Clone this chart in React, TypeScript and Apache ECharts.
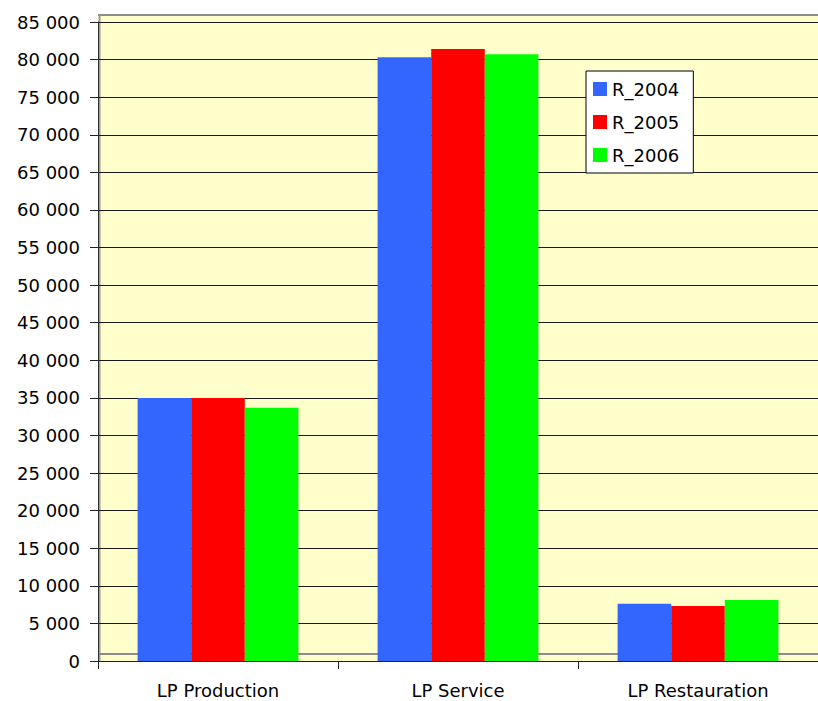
import React, { useEffect, useRef } from "react";
import * as echarts from "echarts";

const categories = ["LP Production", "LP Service", "LP Restauration"];
const seriesNames = ["R_2004", "R_2005", "R_2006"];
const r2004 = [35000, 80300, 7600];
const r2005 = [35000, 81400, 7300];
const r2006 = [33700, 80700, 8100];
const seriesColors = ["#3366FF", "#FF0000", "#00FF00"];
const yMin = 0;
const yMax = 85000;
const yStep = 5000;

const FONT = "DejaVu Sans";

export default function App() {
  const ref = useRef<HTMLDivElement>(null);
  useEffect(() => {
    if (!ref.current) return;
    const chart = echarts.init(ref.current, null, { renderer: "svg" });
    const data = [r2004, r2005, r2006];
    chart.setOption({
      animation: false,
      backgroundColor: "#FFFFFF",
      textStyle: { fontFamily: FONT },
      graphic: [
        {
          type: "rect",
          z: -10,
          silent: true,
          shape: { x: 98, y: 15, width: 740, height: 646 },
          style: { fill: "#FFFFCC" },
        },
        {
          type: "line",
          z: -5,
          silent: true,
          shape: { x1: 98, y1: 15, x2: 830, y2: 15 },
          style: { stroke: "#8C8C8C", lineWidth: 2 },
        },
        {
          type: "line",
          z: -5,
          silent: true,
          shape: { x1: 99.5, y1: 15, x2: 99.5, y2: 661 },
          style: { stroke: "#9A9A9A", lineWidth: 2 },
        },
        {
          type: "line",
          z: -5,
          silent: true,
          shape: { x1: 98, y1: 654, x2: 830, y2: 654 },
          style: { stroke: "#8C8C8C", lineWidth: 2 },
        },
      ],
      legend: {
        orient: "vertical",
        left: 586,
        top: 71,
        data: seriesNames,
        icon: "rect",
        itemWidth: 14,
        itemHeight: 14,
        itemGap: 15,
        padding: [9, 14, 9, 7],
        backgroundColor: "#FFFFFF",
        borderColor: "#000000",
        borderWidth: 1,
        textStyle: { fontFamily: FONT, fontSize: 18, color: "#000000" },
        selectedMode: false,
      },
      grid: { left: 98, top: 22, width: 724, height: 639, containLabel: false },
      xAxis: {
        type: "category",
        data: categories,
        boundaryGap: true,
        axisLine: { show: true, lineStyle: { color: "#222222", width: 1 } },
        axisTick: { show: true, alignWithLabel: false, length: 8, lineStyle: { color: "#222222" } },
        axisLabel: { color: "#000000", fontSize: 18, fontFamily: FONT, margin: 20 },
      },
      yAxis: {
        type: "value",
        min: yMin,
        max: yMax,
        interval: yStep,
        axisLine: { show: true, lineStyle: { color: "#333333", width: 1 } },
        axisTick: { show: true, length: 8, lineStyle: { color: "#222222" } },
        axisLabel: {
          color: "#000000",
          fontSize: 18,
          fontFamily: FONT,
          margin: 18,
          formatter: (v: number) => String(v).replace(/\B(?=(\d{3})+(?!\d))/g, " "),
        },
        splitLine: { show: true, lineStyle: { color: "#1A1A1A", width: 1 } },
      },
      series: seriesNames.map((name, i) => ({
        name,
        type: "bar",
        data: data[i],
        barGap: "0%",
        barCategoryGap: "33%",
        itemStyle: { color: seriesColors[i] },
      })),
    });
    return () => chart.dispose();
  }, []);
  return (
    <div
      ref={ref}
      style={{ position: "fixed", left: 0, top: 0, width: 818, height: 701 }}
    />
  );
}
